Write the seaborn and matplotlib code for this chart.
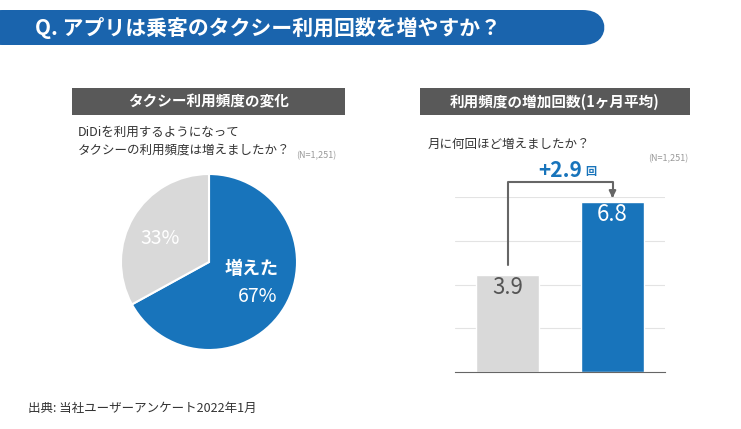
import matplotlib
matplotlib.use("Agg")
import matplotlib.pyplot as plt
from matplotlib.patches import FancyBboxPatch, Rectangle
import seaborn as sns
import pandas as pd

sns.set_style("white")
plt.rcParams['font.family'] = ['Noto Sans CJK JP', 'DejaVu Sans']

pie_labels = ["増えた", "それ以外"]
pie_values = [67, 33]
bar_labels = ["before", "after"]
bar_values = [3.9, 6.8]

BLUE = "#1874bb"
GRAY = "#d9d9d9"
DARK = "#595959"
W, H = 741, 429

fig = plt.figure(figsize=(7.41, 4.29), dpi=100)

def fx(x): return x / W
def fy(y): return 1 - y / H

# title banner
fig.patches.append(FancyBboxPatch((fx(-20), fy(45)), fx(625), 35 / H, boxstyle="round,pad=0,rounding_size=0.03",
                                  transform=fig.transFigure, fc="#1a64ad", ec="none", mutation_aspect=W / H))
fig.text(fx(35), fy(28), "Q. アプリは乗客のタクシー利用回数を増やすか？", color="white", fontsize=15,
         fontweight="bold", va="center")

# section headers
for x0, x1, t in [(72, 345, "タクシー利用頻度の変化"), (420, 690, "利用頻度の増加回数(1ヶ月平均)")]:
    fig.patches.append(Rectangle((fx(x0), fy(115)), fx(x1 - x0), 27 / H, transform=fig.transFigure, fc=DARK, ec="none"))
    fig.text(fx((x0 + x1) / 2), fy(101.5), t, color="white", fontsize=10.5, fontweight="bold", ha="center", va="center")

fig.text(fx(78), fy(132), "DiDiを利用するようになって", fontsize=9, color="#333333", va="center")
fig.text(fx(78), fy(150), "タクシーの利用頻度は増えましたか？", fontsize=9, color="#333333", va="center")
fig.text(fx(296), fy(156), "(N=1,251)", fontsize=6.5, color="#999999", va="center")
fig.text(fx(428), fy(144), "月に何回ほど増えましたか？", fontsize=9, color="#333333", va="center")
fig.text(fx(648), fy(159), "(N=1,251)", fontsize=6.5, color="#999999", va="center")
fig.text(fx(28), fy(408), "出典: 当社ユーザーアンケート2022年1月", fontsize=9, color="#333333", va="center")

# pie
r = 88
axp = fig.add_axes([fx(209 - r), fy(262 + r), fx(2 * r), 2 * r / H])
axp.pie(pie_values, colors=[BLUE, GRAY], startangle=90, counterclock=False, radius=1,
        wedgeprops=dict(edgecolor="white", linewidth=1.5))
axp.set_xlim(-1, 1); axp.set_ylim(-1, 1)
axp.set_aspect("equal")
fig.text(fx(252), fy(268), "増えた", color="white", fontsize=13, fontweight="bold", ha="center", va="center")
fig.text(fx(258), fy(296), f"{pie_values[0]}%", color="white", fontsize=14, ha="center", va="center")
fig.text(fx(160), fy(238), f"{pie_values[1]}%", color="white", fontsize=14, ha="center", va="center")

# bars
axb = fig.add_axes([fx(455), fy(372), fx(210), 175 / H])
df = pd.DataFrame({"k": bar_labels, "v": bar_values})
sns.barplot(data=df, x="k", y="v", hue="k", palette=[GRAY, BLUE], width=0.6, ax=axb, legend=False, saturation=1)
axb.set_xlim(-0.5, 1.5)
axb.set_ylim(0, 7)
axb.set_yticks([1.75, 3.5, 5.25, 7])
axb.grid(axis="y", color="#e3e3e3", linewidth=0.8)
axb.set_axisbelow(True)
for s in ["top", "right", "left"]:
    axb.spines[s].set_visible(False)
axb.spines["bottom"].set_color("#666666")
axb.set_xticks([]); axb.set_yticklabels([]); axb.tick_params(left=False)
axb.set_xlabel(""); axb.set_ylabel("")
axb.text(0, bar_values[0] - 0.5, f"{bar_values[0]}", ha="center", va="center", fontsize=16, color="#555555")
axb.text(1, bar_values[1] - 0.5, f"{bar_values[1]}", ha="center", va="center", fontsize=16, color="white")
top = 7.6
axb.plot([0, 0, 1, 1], [bar_values[0] + 0.4, top, top, 7.1], color="#666666", lw=1.5, clip_on=False)
axb.annotate("", xy=(1, bar_values[1] + 0.05), xytext=(1, 7.2),
             arrowprops=dict(arrowstyle="-|>", color="#666666", lw=1.5), annotation_clip=False)
d = bar_values[1] - bar_values[0]
axb.text(0.5, 8.05, f"+{d:.1f}", ha="center", va="center", fontsize=15, fontweight="bold", color=BLUE)
axb.text(0.79, 8.0, "回", ha="center", va="center", fontsize=8, fontweight="bold", color=BLUE)

fig.savefig("out.png", dpi=100)
